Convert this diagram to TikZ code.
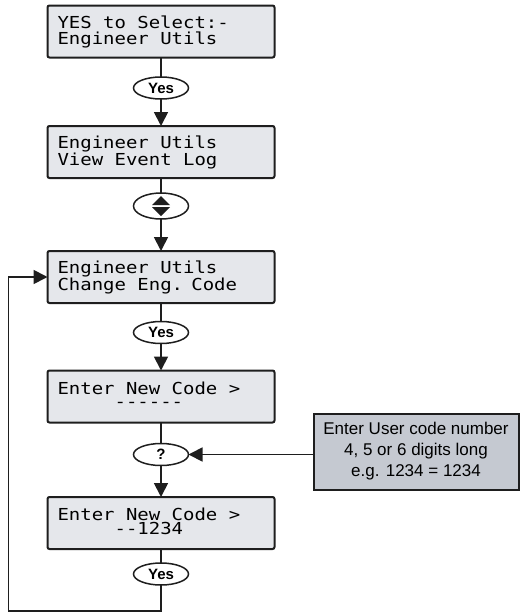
\documentclass[tikz,border=0pt]{standalone}
\usepackage{fontspec}
\setmainfont{Liberation Sans}
\newfontfamily\lcdfont[FakeStretch=1.15,Ligatures=TeXOff]{DejaVu Sans Mono}
\newcommand\lcdtext{\lcdfont\fontsize{16.5}{16}\selectfont}
\newcommand\lcdspace{\spaceskip 11.4pt plus 0pt minus 0pt\relax}
\usepackage{tikz}
\usetikzlibrary{shapes.geometric,arrows.meta,positioning}
\definecolor{flowdark}{RGB}{30,30,30}
\definecolor{lcdgray}{RGB}{229,231,235}
\definecolor{notegray}{RGB}{197,201,209}
\tikzset{
  lcdbox/.style={rectangle,rounded corners=2pt,draw=flowdark,line width=2pt,
    fill=lcdgray,text width=207pt,minimum height=52pt,inner xsep=10pt,
    inner ysep=0pt,outer sep=0pt,align=left,font=\lcdtext,
    execute at begin node=\lcdspace},
  keyoval/.style={ellipse,draw=flowdark,line width=1.5pt,fill=white,
    minimum width=55pt,minimum height=22pt,inner sep=0pt,outer sep=0pt,
    font=\fontsize{15}{15}\selectfont\bfseries},
  notebox/.style={rectangle,draw=flowdark,line width=2pt,fill=notegray,
    minimum width=205pt,minimum height=76pt,align=center,outer sep=0pt,
    font=\fontsize{17}{21}\selectfont},
  flowline/.style={line width=1.8pt,color=flowdark},
  flowarrow/.style={flowline,-{Triangle[length=14pt,width=14pt]}},
}

\begin{document}
\begin{tikzpicture}[node distance=20pt]
\useasboundingbox (0,0) rectangle (520pt,-613pt);

%% ── menu screens ─────────────────────────────────────────────────────────
\node[lcdbox] (selh) at (161pt,-31.5pt) {YES to Select:-\\Engineer Utils};
\node[keyoval, below=19.5pt of selh] (yesa) {Yes};
\node[lcdbox, below=27pt of yesa] (logh) {Engineer Utils\\View Event Log};
\node[keyoval, minimum height=26pt, below=15pt of logh] (scroll) {};
\node[lcdbox, below=32pt of scroll] (chgh) {Engineer Utils\\Change Eng. Code};
\node[keyoval, below=18.5pt of chgh] (yesb) {Yes};

%% ── code entry ───────────────────────────────────────────────────────────
\node[lcdbox, below=27pt of yesb] (newh) {Enter New Code >\\[-3pt]%
  \phantom{Enter}------\vphantom{g}};
\node[keyoval, below=21pt of newh] (quest) {?};
\node[lcdbox, below=31.5pt of quest] (enth) {Enter New Code >\\[-2pt]%
  \phantom{Enter}--1234\vphantom{g}};
\node[keyoval, below=14pt of enth] (yesc) {Yes};

%% ── hint ─────────────────────────────────────────────────────────────────
\node[notebox, right=125pt of quest, yshift=3pt] (hint) {Enter User code number\\
  4, 5 or 6 digits long\\e.g. 1234 = 1234};

% up/down key symbol
\fill[flowdark] ([yshift=1pt]scroll.center) ++(-9pt,0) -- ++(18pt,0)
  -- ++(-9pt,9pt) -- cycle;
\fill[flowdark] ([yshift=-1pt]scroll.center) ++(-9pt,0) -- ++(18pt,0)
  -- ++(-9pt,-9pt) -- cycle;

%% ── connectors ───────────────────────────────────────────────────────────
\draw[flowline] (selh) -- (yesa);
\draw[flowarrow] (yesa) -- (logh);
\draw[flowline] (logh) -- (scroll);
\draw[flowarrow] (scroll) -- (chgh);
\draw[flowline] (chgh) -- (yesb);
\draw[flowarrow] (yesb) -- (newh);
\draw[flowline] (newh) -- (quest);
\draw[flowarrow] (quest) -- (enth);
\draw[flowline] (enth) -- (yesc);
\draw[flowarrow] (hint.west |- quest) -- (quest);
% back to Change Eng. Code
\coordinate[below=26pt of yesc] (loopb);
\coordinate (loopl) at ([xshift=-39pt]chgh.west);
\draw[flowarrow] (yesc) -- (loopb) -| (loopl) -- (chgh.west);

\end{tikzpicture}
\end{document}
